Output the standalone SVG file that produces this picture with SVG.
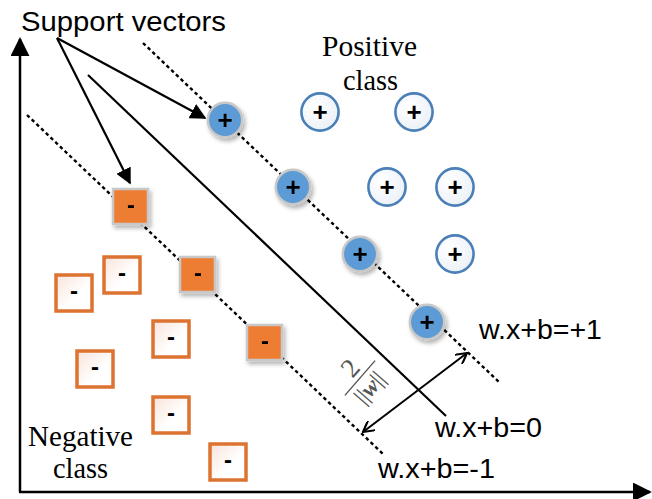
<svg xmlns="http://www.w3.org/2000/svg" width="652" height="499" viewBox="0 0 652 499">
<style>
.ax{stroke:#000;stroke-width:2.5;fill:none}
.arr{stroke:#000;stroke-width:2.2;fill:none}
.dot{stroke:#000;stroke-width:2.4;stroke-dasharray:3.5 3;fill:none}
.sv-c{fill:#5b9bd5;stroke:#c8c8c8;stroke-width:2.5}
.pc{fill:url(#gc);stroke:#4a7fb8;stroke-width:2.6}
.sv-s{fill:#ed7d31;stroke:#c8c8c8;stroke-width:2.5}
.ns{fill:url(#gs);stroke:#dd7331;stroke-width:3.5}
.plus{font-family:"Liberation Sans",Arial,sans-serif;font-weight:bold;font-size:26px;text-anchor:middle;fill:#000}
.minus{font-family:"Liberation Sans",Arial,sans-serif;font-weight:bold;font-size:24px;text-anchor:middle;fill:#000}
.sans{font-family:"Liberation Sans",Arial,sans-serif;font-size:27px;fill:#000}
.serif{font-family:"Liberation Serif","Times New Roman",serif;font-size:29px;fill:#000}
</style>
<defs>
<marker id="ah" viewBox="0 0 10 10" refX="9" refY="5" markerWidth="16" markerHeight="16" markerUnits="userSpaceOnUse" orient="auto">
<path d="M0,0 L10,5 L0,10 Z" fill="#000"/>
</marker>
<marker id="axh" viewBox="0 0 10 10" refX="9" refY="5" markerWidth="19" markerHeight="19" markerUnits="userSpaceOnUse" orient="auto">
<path d="M0,0 L10,5 L0,10 Z" fill="#000"/>
</marker>
<marker id="oh" viewBox="0 0 10 10" refX="9" refY="5" markerWidth="12" markerHeight="12" markerUnits="userSpaceOnUse" orient="auto-start-reverse">
<path d="M0,0 L9,5 L0,10" fill="none" stroke="#000" stroke-width="1.8"/>
</marker>
<radialGradient id="gc" cx="0.35" cy="0.35" r="0.75">
<stop offset="0" stop-color="#ffffff"/>
<stop offset="1" stop-color="#eaf0f7"/>
</radialGradient>
<linearGradient id="gs" x1="0" y1="0" x2="1" y2="1">
<stop offset="0" stop-color="#f9e3da"/>
<stop offset="0.6" stop-color="#ffffff"/>
</linearGradient>
<filter id="sh" x="-30%" y="-30%" width="170%" height="170%">
<feDropShadow dx="2" dy="3" stdDeviation="2" flood-color="#000" flood-opacity="0.3"/>
</filter>
</defs>

<g id="connectors">
<line class="ax" x1="20" y1="492" x2="20" y2="39" marker-end="url(#axh)"/>
<line class="ax" x1="19" y1="492" x2="650" y2="492" marker-end="url(#axh)"/>
<line class="dot" x1="143" y1="43" x2="500" y2="383"/>
<line class="dot" x1="27" y1="115" x2="383" y2="454"/>
<line class="arr" x1="88" y1="75" x2="446" y2="416"/>
<line class="arr" x1="57" y1="38" x2="205" y2="118" marker-end="url(#ah)"/>
<line class="arr" x1="57" y1="38" x2="130" y2="183" marker-end="url(#ah)"/>
<line x1="363" y1="432" x2="467" y2="353" stroke="#000" stroke-width="2" marker-start="url(#oh)" marker-end="url(#oh)"/>
</g>

<g id="pos-sv-1" filter="url(#sh)"><circle class="sv-c" cx="225" cy="120" r="17.2"/><text class="plus" x="225" y="129">+</text></g>
<g id="pos-sv-2" filter="url(#sh)"><circle class="sv-c" cx="293" cy="187" r="17.2"/><text class="plus" x="293" y="196">+</text></g>
<g id="pos-sv-3" filter="url(#sh)"><circle class="sv-c" cx="360" cy="254" r="17.2"/><text class="plus" x="360" y="263">+</text></g>
<g id="pos-sv-4" filter="url(#sh)"><circle class="sv-c" cx="427" cy="322" r="17.2"/><text class="plus" x="427" y="331">+</text></g>

<g id="pos-1"><circle class="pc" cx="320" cy="112" r="18.6"/><text class="plus" x="320" y="121">+</text></g>
<g id="pos-2"><circle class="pc" cx="414" cy="112" r="18.6"/><text class="plus" x="414" y="121">+</text></g>
<g id="pos-3"><circle class="pc" cx="387" cy="187" r="18.6"/><text class="plus" x="387" y="196">+</text></g>
<g id="pos-4"><circle class="pc" cx="455" cy="187" r="18.6"/><text class="plus" x="455" y="196">+</text></g>
<g id="pos-5"><circle class="pc" cx="455" cy="254" r="18.6"/><text class="plus" x="455" y="263">+</text></g>

<g id="neg-sv-1" filter="url(#sh)"><rect class="sv-s" x="113" y="189" width="35" height="35"/><text class="minus" x="131" y="213">-</text></g>
<g id="neg-sv-2" filter="url(#sh)"><rect class="sv-s" x="180" y="257" width="35" height="35"/><text class="minus" x="198" y="281">-</text></g>
<g id="neg-sv-3" filter="url(#sh)"><rect class="sv-s" x="247" y="325" width="35" height="35"/><text class="minus" x="265" y="349">-</text></g>

<g id="neg-1"><rect class="ns" x="56" y="275" width="36" height="36"/><text class="minus" x="74" y="299">-</text></g>
<g id="neg-2"><rect class="ns" x="104" y="257" width="36" height="36"/><text class="minus" x="122" y="281">-</text></g>
<g id="neg-3"><rect class="ns" x="153" y="321" width="36" height="36"/><text class="minus" x="171" y="345">-</text></g>
<g id="neg-4"><rect class="ns" x="77" y="351" width="36" height="36"/><text class="minus" x="95" y="375">-</text></g>
<g id="neg-5"><rect class="ns" x="153" y="397" width="36" height="36"/><text class="minus" x="171" y="421">-</text></g>
<g id="neg-6"><rect class="ns" x="210" y="444" width="36" height="36"/><text class="minus" x="228" y="468">-</text></g>

<g id="labels">
<text class="sans" x="21" y="31" textLength="205" lengthAdjust="spacingAndGlyphs">Support vectors</text>
<text class="serif" x="322" y="56" textLength="95" lengthAdjust="spacingAndGlyphs">Positive</text>
<text class="serif" x="343" y="90" textLength="55" lengthAdjust="spacingAndGlyphs">class</text>
<text class="serif" x="28" y="446" textLength="105" lengthAdjust="spacingAndGlyphs">Negative</text>
<text class="serif" x="53" y="478" textLength="55" lengthAdjust="spacingAndGlyphs">class</text>
<text class="sans" x="479" y="339" textLength="123" lengthAdjust="spacingAndGlyphs">w.x+b=+1</text>
<text class="sans" x="435" y="437" textLength="107" lengthAdjust="spacingAndGlyphs">w.x+b=0</text>
<text class="sans" x="378" y="478" textLength="117" lengthAdjust="spacingAndGlyphs">w.x+b=-1</text>
</g>

<g id="margin-label" transform="translate(360,378) rotate(-49)" fill="#555">
<text x="1" y="-5" font-family="Liberation Serif,serif" font-size="27" text-anchor="middle">2</text>
<line x1="-23" y1="0" x2="23" y2="0" stroke="#555" stroke-width="1.4"/>
<text x="-1" y="21" font-family="Liberation Serif,serif" font-size="23" text-anchor="middle">||<tspan font-style="italic" font-weight="bold">w</tspan>||</text>
</g>
</svg>
